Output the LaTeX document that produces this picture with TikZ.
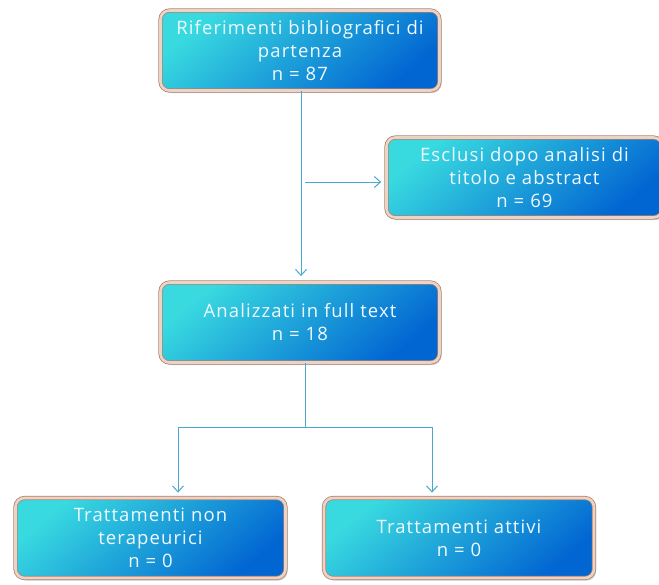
\documentclass[tikz,border=0pt]{standalone}
\usepackage{fontspec}
\setmainfont{Open Sans}
\newfontfamily\boxfont[LetterSpace=6]{Open Sans}
\usetikzlibrary{arrows.meta,shadows}
\definecolor{boxcyan}{HTML}{38DAE0}
\definecolor{boxblue}{HTML}{0266D2}
\definecolor{boxrim}{HTML}{A88474}
\definecolor{boxpeach}{HTML}{EED3C4}
\definecolor{flowline}{HTML}{4AA8CE}
\begin{document}
\begin{tikzpicture}[x=1pt,y=-1pt,
	stepbox/.style={rectangle,rounded corners=9pt,draw=boxrim,line width=0.8pt,
		double=boxpeach,double distance=2.6pt,
		top color=boxcyan,bottom color=boxblue,shading angle=40,
		drop shadow={shadow xshift=2pt,shadow yshift=-2.5pt,opacity=0.35},
		text=white!94!cyan,align=center,font=\boxfont\fontsize{18.5}{23}\selectfont,
		minimum height=80pt,inner sep=2pt},
	widebox/.style={stepbox,minimum width=279pt},
	smallbox/.style={stepbox,minimum width=270pt},
	flow/.style={draw=flowline,line width=1pt,-{Straight Barb[length=6pt,width=11pt]}},
	plain/.style={draw=flowline,line width=1pt}]
	\useasboundingbox (0,0) rectangle (659,584);
	\node[widebox] (start) at (300,50.5) {Riferimenti bibliografici di\\partenza\\n = 87};
	\node[smallbox,minimum width=276pt] (excl) at (524.5,177.5) {Esclusi dopo analisi di\\titolo e abstract\\n = 69};
	\node[widebox] (full) at (300,322.5) {Analizzati in full text\\n = 18};
	\node[smallbox] (nonther) at (150.5,538) {Trattamenti non\\terapeurici\\n = 0};
	\node[smallbox] (attivi) at (459,538) {Trattamenti attivi\\n = 0};
	% connectors
	\coordinate (side) at (305,182);
	\coordinate (split) at (305,427);
	\coordinate (jl) at (178,427);
	\coordinate (jr) at (432,427);
	\draw[flow,shorten >=6pt] ([xshift=1pt]start.south) -- ([xshift=1pt]full.north);
	\draw[flow,shorten >=5pt] (side) -- (side -| excl.west);
	\draw[plain] (full.south -| split) -- (split);
	\draw[plain] (jl) -- (jr);
	\draw[flow,shorten >=5pt] (jl) -- (jl |- nonther.north);
	\draw[flow,shorten >=5pt] (jr) -- (jr |- attivi.north);
\end{tikzpicture}
\end{document}
